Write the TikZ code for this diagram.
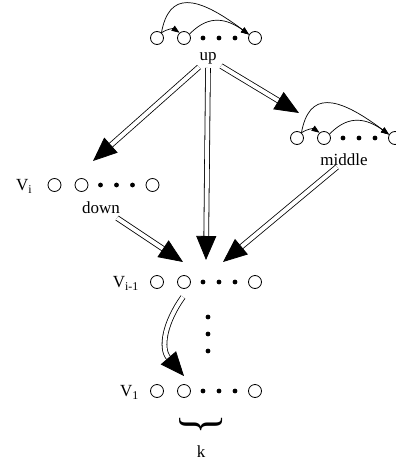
\documentclass[tikz,border=0pt]{standalone}
\usepackage{fontspec}
\setmainfont{Liberation Serif}
\usetikzlibrary{arrows.meta}
\tikzset{
  circ/.style={circle, draw, line width=0.8pt, minimum size=13pt, inner sep=0pt},
  blob/.style={circle, fill, minimum size=4.8pt, inner sep=0pt},
  lab/.style={font=\fontsize{17}{20}\selectfont, inner sep=0pt},
  dbl/.style={double, double distance=4pt, line width=0.8pt, -{Triangle[length=24pt,width=20pt]}},
  arc/.style={line width=0.7pt, -{Triangle[length=8pt,width=6pt]}},
  pics/row/.style={code={
    \node[circ] (-c1) at (0,0) {};
    \node[circ] (-c2) at (27,0) {};
    \node[blob] (-d1) at (46,0) {};
    \node[blob] (-d2) at (62,0) {};
    \node[blob] (-d3) at (78,0) {};
    \node[circ] (-c4) at (98,0) {};
  }},
  pics/arcrow/.style={code={
    \node[circ] (-c1) at (0,0) {};
    \node[circ] (-c2) at (27,0) {};
    \node[blob] (-d1) at (46,0) {};
    \node[blob] (-d2) at (62,0) {};
    \node[blob] (-d3) at (78,0) {};
    \node[circ] (-c4) at (98,0) {};
    \draw[arc] (-c1.50) to[bend left=35] (-c2.130);
    \draw[arc] (-c1.50) .. controls (12,-46) and (38,-44) .. (-c4.150);
    \draw[arc] (-c2.35) .. controls (48,-20) and (65,-23) .. (-c4.150);
  }},
}
\begin{document}
\begin{tikzpicture}[x=1pt,y=-1pt]
\useasboundingbox (0,0) rectangle (396,464);
\pic (top) at (157,38) {arcrow};
\pic (mid) at (297,138) {arcrow};
\pic (vi) at (54.5,185) {row};
\pic (vim) at (157,282) {row};
\pic (vone) at (157,391) {row};

\node[lab] (up) at (208,58) {up};
\node[lab] (middle) at (344,160) {middle};
\node[lab] (down) at (101,208) {down};
\node[lab, anchor=base west] (Vi) at (16,190.5) {V\textsubscript{i}};
\node[lab, anchor=base east] (Vim) at (139,287.5) {V\textsubscript{i-1}};
\node[lab, anchor=base east] (Vone) at (139,396.5) {V\textsubscript{1}};

\node[blob] (vd1) at (208,317) {};
\node[blob] (vd2) at (208,334) {};
\node[blob] (vd3) at (208,351) {};

\node[inner sep=0pt] (brace) at (201,424)
  {\rotatebox{-90}{\scalebox{0.8}[1]{\fontsize{52}{52}\selectfont\}}}};
\node[lab] (k) at (201,452) {k};

\coordinate (upA) at (199,67);
\coordinate (upB) at (208,68);
\coordinate (upC) at (221,66);
\coordinate (tipVi) at (93,161);
\coordinate (tipV1) at (206,260);
\coordinate (tipMid) at (299,113);
\coordinate (downS) at (117,218);
\coordinate (tipV2) at (183,262);
\coordinate (midS) at (337,167);
\coordinate (tipV3) at (223,262);
\coordinate (curS) at (183,297);
\coordinate (tipCur) at (184,376);

\draw[dbl] (upA) -- (tipVi);
\draw[dbl] (upB) -- (tipV1);
\draw[dbl] (upC) -- (tipMid);
\draw[dbl] (downS) -- (tipV2);
\draw[dbl] (midS) -- (tipV3);
\draw[dbl] (curS) .. controls (165,322) and (160,348) .. (tipCur);
\end{tikzpicture}
\end{document}
